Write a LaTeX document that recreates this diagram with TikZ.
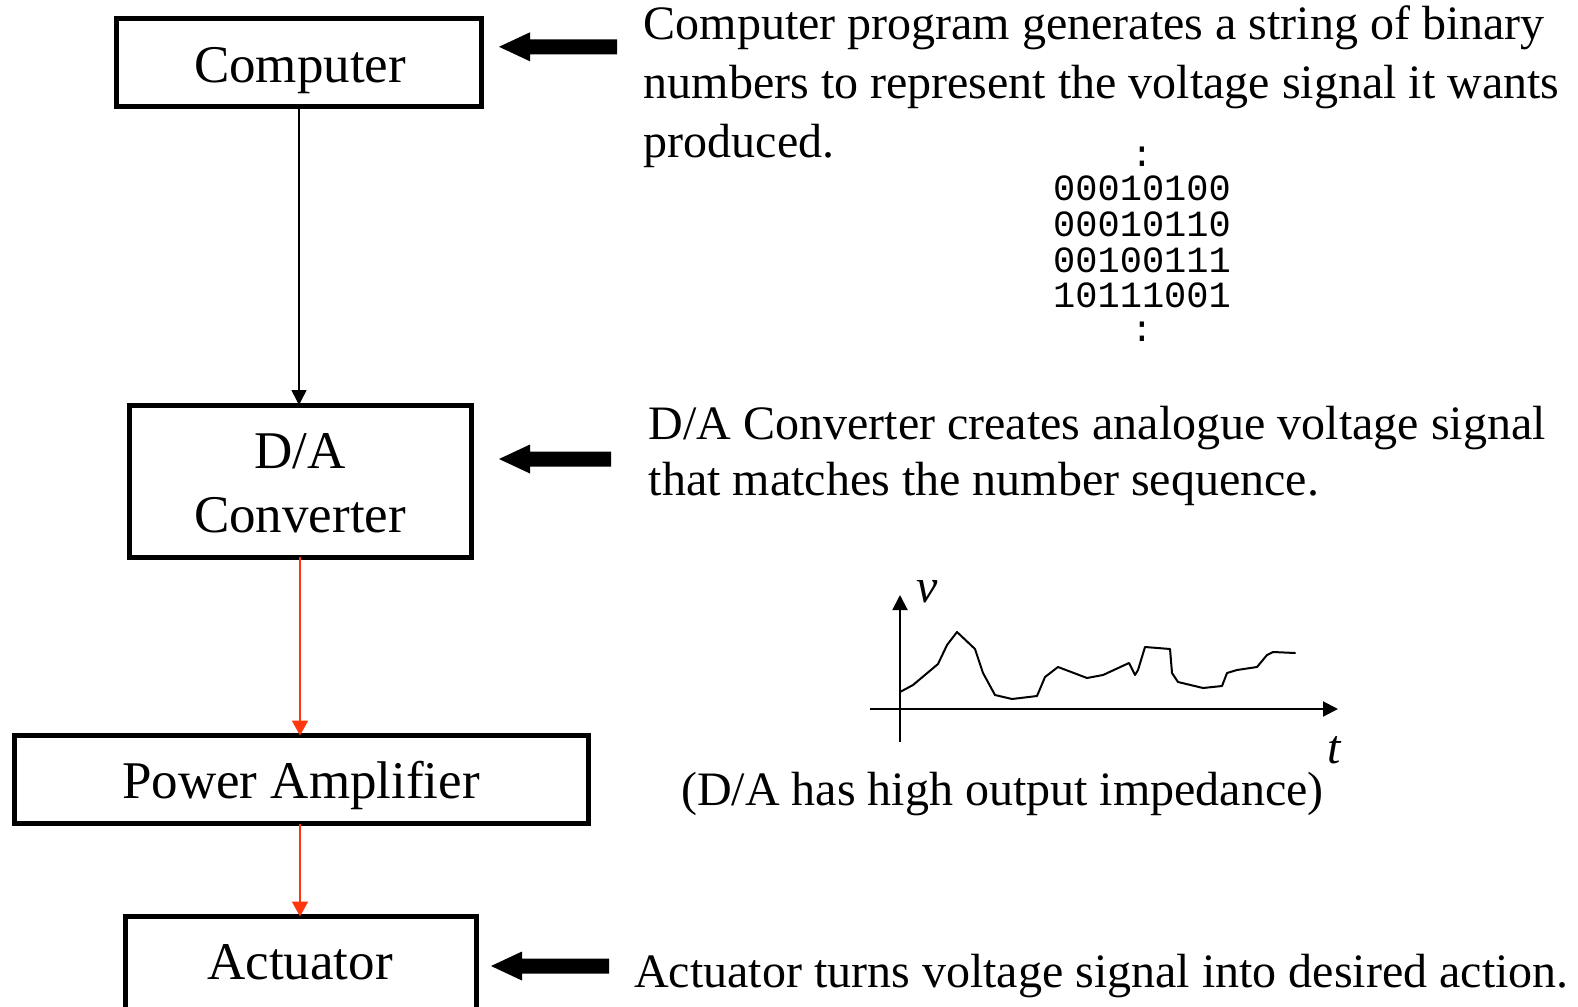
\documentclass[tikz,border=0pt]{standalone}
\usepackage{fontspec}
\setmainfont{Liberation Serif}
\newfontfamily\binfont{Liberation Mono}
\usetikzlibrary{arrows.meta}
\definecolor{conred}{RGB}{255,55,15}
\tikzset{
  box/.style={draw, line width=5pt, inner sep=0pt, outer sep=0pt, fill=none},
  boxtext/.style={anchor=base, inner sep=0pt, font=\fontsize{53}{60}\selectfont},
  rtext/.style={anchor=base west, inner sep=0pt, font=\fontsize{48}{56}\selectfont},
  bintext/.style={anchor=base, inner sep=0pt, font=\binfont\fontsize{37}{36}\selectfont},
  blackconn/.style={line width=1.6pt, -{Triangle[length=15pt,width=15pt]}},
  redconn/.style={conred, line width=1.8pt, -{Triangle[length=15pt,width=16pt]}},
  axis/.style={line width=2pt, -{Triangle[length=15pt,width=15pt]}},
  pics/fatarrow/.style={code={
    \fill (0,0) -- (31,-14.5) -- (31,-7.5) -- (#1,-7.5) -- (#1,7.5) -- (31,7.5) -- (31,14.5) -- cycle;}}
}
\begin{document}
\begin{tikzpicture}[x=1pt,y=-1pt]
\useasboundingbox (0,0) rectangle (1578,1006);
\begin{scope}
\clip (0,0) rectangle (1578,1006);
% boxes
\node[box, minimum width=365pt, minimum height=88pt] (comp) at (299,63) {};
\node[box, minimum width=342pt, minimum height=152pt] (da) at (300,481) {};
\node[box, minimum width=574pt, minimum height=88pt] (amp) at (301,779.5) {};
\node[box, minimum width=351pt, minimum height=120pt] (act) at (300.5,976.5) {};
\end{scope}
% box texts
\node[boxtext] (tcomp) at (300,83) {Computer};
\node[boxtext] (tda1) at (300,468) {D/A};
\node[boxtext] (tda2) at (300,532) {Converter};
\node[boxtext] (tamp) at (301,798) {Power Amplifier};
\node[boxtext] (tact) at (300,979) {Actuator};
% connectors
\draw[blackconn] (comp.south) -- (comp.south |- da.north);
\draw[redconn] (da.south) -- (da.south |- amp.north);
\draw[redconn] (da.south |- amp.south) -- (da.south |- act.north);
% fat arrows
\pic at (499,46.8) {fatarrow=118};
\pic at (499,459) {fatarrow=112};
\pic at (491,966) {fatarrow=118};
% right texts
\node[rtext] (r1a) at (643.5,40) {Computer program generates a string of binary};
\node[rtext] (r1b) at (643.5,98.5) {numbers to represent the voltage signal it wants};
\node[rtext] (r1c) at (643.5,157) {produced.};
\node[rtext] (r2a) at (648.5,439) {D/A Converter creates analogue voltage signal};
\node[rtext] (r2b) at (648.5,495) {that matches the number sequence.};
\node[rtext] (r3) at (634,987) {Actuator turns voltage signal into desired action.};
\node[rtext] (r4) at (681,805) {(D/A has high output impedance)};
% binary numbers
\node[bintext] (b0) at (1142,166) {:};
\node[bintext] (b1) at (1142,200) {00010100};
\node[bintext] (b2) at (1142,236) {00010110};
\node[bintext] (b3) at (1142,272) {00100111};
\node[bintext] (b4) at (1142,307) {10111001};
\node[bintext] (b5) at (1142,341) {:};
% graph
\coordinate (vbot) at (900,742);
\coordinate (vtop) at (900,595);
\coordinate (tleft) at (870,709);
\coordinate (tright) at (1338,709);
\draw[axis] (vbot) -- (vtop);
\draw[axis] (tleft) -- (tright);
\node[anchor=base, inner sep=0pt, font=\fontsize{48}{50}\selectfont\itshape] (vlab) at (927,602) {v};
\node[anchor=base, inner sep=0pt, font=\fontsize{48}{50}\selectfont\itshape] (tlab) at (1334,763) {t};
\draw[line width=2pt, line join=round, line cap=round]
  (900,692) -- (913,685) -- (938,664) -- (947,645) -- (957,632) -- (975,649)
  -- (983,673) -- (995,695) -- (1012,699) -- (1037,696) -- (1045,677)
  -- (1058,667) -- (1087,678) -- (1103,675) -- (1129,663) -- (1135,675)
  -- (1138,670) -- (1145,647) -- (1170,649) -- (1172,673) -- (1178,682)
  -- (1203,688) -- (1222,686) -- (1227,673) -- (1237,670) -- (1257,667)
  -- (1267,655) -- (1273,652) -- (1295,653);
\end{tikzpicture}
\end{document}
